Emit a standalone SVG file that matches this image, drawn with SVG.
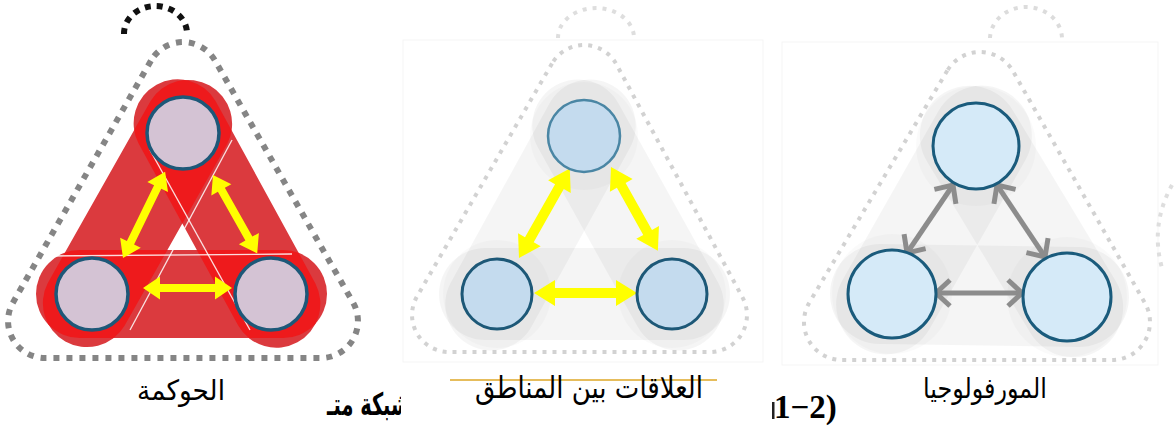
<svg xmlns="http://www.w3.org/2000/svg" width="1174" height="428" viewBox="0 0 1174 428">
<style>
.lbl{font-family:'DejaVu Sans','Noto Sans',sans-serif;font-size:28px;fill:#000}
.bold{font-weight:bold}
.band1{fill:#db3a3e}
.ovl{fill:#ee1a1c}
.ghost{stroke:#000;stroke-opacity:0.04;stroke-linecap:round;fill:none}
.halo{fill:#000;fill-opacity:0.018}
.dotA{fill:none;stroke:#858585;stroke-width:6;stroke-dasharray:6 7}
.dotB{fill:none;stroke:#d2d2d2;stroke-width:4;stroke-dasharray:4 6}
.frame{fill:#fff;stroke:#f5f5f5;stroke-width:1}
.cGov{fill:#d4c3d4;stroke:#1d5878;stroke-width:3.5}
.cRel{fill:#c4dbee;stroke:#1d5877;stroke-width:3}
.cMor{fill:#d5eaf8;stroke:#1a5b7c;stroke-width:3}
.yarrow{fill:#ffff00}
.garrow{stroke:#8c8c8c;stroke-width:5;fill:none;marker-start:url(#chev);marker-end:url(#chev)}
.wline{stroke:#fff;stroke-width:1.3;stroke-opacity:0.85;fill:none}
</style>
<defs>
<marker id="chev" viewBox="-22 -18 28 36" refX="0" refY="0" markerWidth="28" markerHeight="36" markerUnits="userSpaceOnUse" orient="auto-start-reverse">
<path d="M-14,-13 L0,0 L-14,13" fill="none" stroke="#8c8c8c" stroke-width="5"/>
</marker>
<path id="capL" d="M227.2 144.1 L124.4 326.1 A44 44 0 0 1 47.8 282.9 L150.6 100.9 A44 44 0 0 1 227.2 144.1 Z"/>
<path id="capR" d="M138.6 143.6 L238.2 325.6 A44 44 0 0 0 315.4 283.4 L215.8 101.4 A44 44 0 0 0 138.6 143.6 Z"/>
<path id="capB" d="M80 250 L283 250 A44 44 0 0 1 283 338 L80 338 A44 44 0 0 1 80 250 Z"/>
<clipPath id="clipR"><use href="#capR"/></clipPath>
<clipPath id="clipB"><use href="#capB"/></clipPath>
<clipPath id="clipL"><rect x="0" y="380" width="401" height="48"/></clipPath>
</defs>
<rect width="1174" height="428" fill="#fff"/>

<!-- Panel 1: governance -->
<g id="panel-governance">
<path d="M124 34 A31 27 0 0 1 187 33" fill="none" stroke="#111" stroke-width="6" stroke-dasharray="6 6"/>
<path class="dotA" d="M150.9 60.7 L12.9 302.7 A37 37 0 0 0 45 358 L321 358 A37 37 0 0 0 353.1 302.7 L215.1 60.7 A37 37 0 0 0 150.9 60.7 Z"/>
<use href="#capL" class="band1"/>
<use href="#capR" class="band1"/>
<use href="#capB" class="band1"/>
<use href="#capL" class="ovl" clip-path="url(#clipR)"/>
<use href="#capL" class="ovl" clip-path="url(#clipB)"/>
<use href="#capR" class="ovl" clip-path="url(#clipB)"/>
<line class="wline" x1="45" y1="256" x2="292" y2="254"/>
<line class="wline" x1="150" y1="150" x2="250" y2="330"/>
<line class="wline" x1="232" y1="140" x2="130" y2="330"/>
</g>

<!-- Panel 2 frame -->
<g id="panel-relations-bg">
<path d="M558 38 A38 30 0 0 1 634 38" fill="none" stroke="#dedede" stroke-width="4" stroke-dasharray="4 6"/>
<rect class="frame" x="403" y="40" width="360" height="322"/>
<line class="ghost" stroke-width="92" x1="589.8" y1="125.5" x2="491.2" y2="304.5"/>
<line class="ghost" stroke-width="92" x1="578.2" y1="125.5" x2="677.8" y2="304.5"/>
<line class="ghost" stroke-width="92" x1="485" y1="294" x2="684" y2="294"/>
<circle class="halo" cx="584" cy="136" r="54"/>
<circle class="halo" cx="497" cy="294" r="54"/>
<circle class="halo" cx="672" cy="294" r="54"/>
<path class="dotB" d="M552 63.5 L417 296.5 A37 37 0 0 0 449 352 L710 352 A37 37 0 0 0 742 296.5 L616 63.5 A37 37 0 0 0 552 63.5 Z"/>
</g>

<!-- Panel 3 frame -->
<g id="panel-morphology-bg">
<path d="M990 38 A36 32 0 0 1 1062 40" fill="none" stroke="#dcdcdc" stroke-width="4" stroke-dasharray="4 6"/>
<rect class="frame" x="782" y="42" width="376" height="323"/>
<path d="M1172 185 Q1150 225 1162 268" fill="none" stroke="#dedede" stroke-width="4" stroke-dasharray="4 6"/>
<line class="ghost" stroke-width="100" x1="981.9" y1="135.6" x2="886.1" y2="304.4"/>
<line class="ghost" stroke-width="100" x1="969.8" y1="135.7" x2="1073.2" y2="307.3"/>
<line class="ghost" stroke-width="100" x1="880" y1="294" x2="1079" y2="297"/>
<circle class="halo" cx="976" cy="146" r="60"/>
<circle class="halo" cx="892" cy="294" r="60"/>
<circle class="halo" cx="1067" cy="297" r="60"/>
<path class="dotB" d="M947.3 70.6 L809.3 302.6 A38 38 0 0 0 842 360 L1112 360 A38 38 0 0 0 1145 303.2 L1013 71.2 A38 38 0 0 0 947.3 70.6 Z"/>
</g>

<!-- Connectors -->
<g id="connectors">
<path class="yarrow" transform="translate(123 258) rotate(-63.97)" d="M0,0 L17,-11.5 L17,-4 L79,-4 L79,-11.5 L96,0 L79,11.5 L79,4 L17,4 L17,11.5 Z"/>
<path class="yarrow" transform="translate(213 175) rotate(60.57)" d="M0,0 L17,-11.5 L17,-4 L73,-4 L73,-11.5 L90,0 L73,11.5 L73,4 L17,4 L17,11.5 Z"/>
<path class="yarrow" transform="translate(143 288)" d="M0,0 L17,-11.5 L17,-4 L72,-4 L72,-11.5 L89,0 L72,11.5 L72,4 L17,4 L17,11.5 Z"/>
<path class="yarrow" transform="translate(519 258) rotate(-60.46)" d="M0,0 L21,-13 L21,-5 L82,-5 L82,-13 L103,0 L82,13 L82,5 L21,5 L21,13 Z"/>
<path class="yarrow" transform="translate(611 167) rotate(60.77)" d="M0,0 L21,-13 L21,-5 L75,-5 L75,-13 L96,0 L75,13 L75,5 L21,5 L21,13 Z"/>
<path class="yarrow" transform="translate(534 293)" d="M0,0 L21,-13 L21,-5 L82,-5 L82,-13 L103,0 L82,13 L82,5 L21,5 L21,13 Z"/>
<line class="garrow" x1="953" y1="185" x2="907" y2="253"/>
<line class="garrow" x1="997" y1="185" x2="1045" y2="257"/>
<line class="garrow" x1="936" y1="293" x2="1022" y2="293"/>
</g>

<!-- Nodes -->
<g id="gov-top"><circle class="cGov" cx="183" cy="133" r="36"/></g>
<g id="gov-left"><circle class="cGov" cx="92" cy="294" r="36"/></g>
<g id="gov-right"><circle class="cGov" cx="271" cy="294" r="36"/></g>
<g id="rel-top"><circle class="cRel" cx="584" cy="136" r="36" style="stroke:#4a86a4;stroke-width:2.5"/></g>
<g id="rel-left"><circle class="cRel" cx="497" cy="294" r="35"/></g>
<g id="rel-right"><circle class="cRel" cx="672" cy="294" r="35"/></g>
<g id="mor-top"><circle class="cMor" cx="976" cy="146" r="43"/></g>
<g id="mor-left"><circle class="cMor" cx="892" cy="294" r="44"/></g>
<g id="mor-right"><circle class="cMor" cx="1067" cy="297" r="44"/></g>

<!-- Labels -->
<g id="labels">
<text class="lbl" x="181" y="400" text-anchor="middle" textLength="88" lengthAdjust="spacingAndGlyphs">الحوكمة</text>
<line x1="450" y1="380" x2="717" y2="380" stroke="#e6bd5c" stroke-width="1.8"/>
<text class="lbl" x="589" y="398" text-anchor="middle" textLength="228" lengthAdjust="spacingAndGlyphs" style="font-size:30px">العلاقات بين المناطق</text>
<text class="lbl" x="985" y="398" text-anchor="middle" textLength="124" lengthAdjust="spacingAndGlyphs">المورفولوجيا</text>
<g clip-path="url(#clipL)">
<text class="lbl bold" x="410" y="415" text-anchor="end" textLength="83" lengthAdjust="spacingAndGlyphs" style="font-size:31px">شبكة متـ</text>
</g>
<rect x="772" y="402" width="2.5" height="17" fill="#222"/>
<text x="774" y="418" style="font-family:'Liberation Serif',serif;font-weight:bold;font-size:33px" fill="#000">1−2)</text>
</g>
</svg>
